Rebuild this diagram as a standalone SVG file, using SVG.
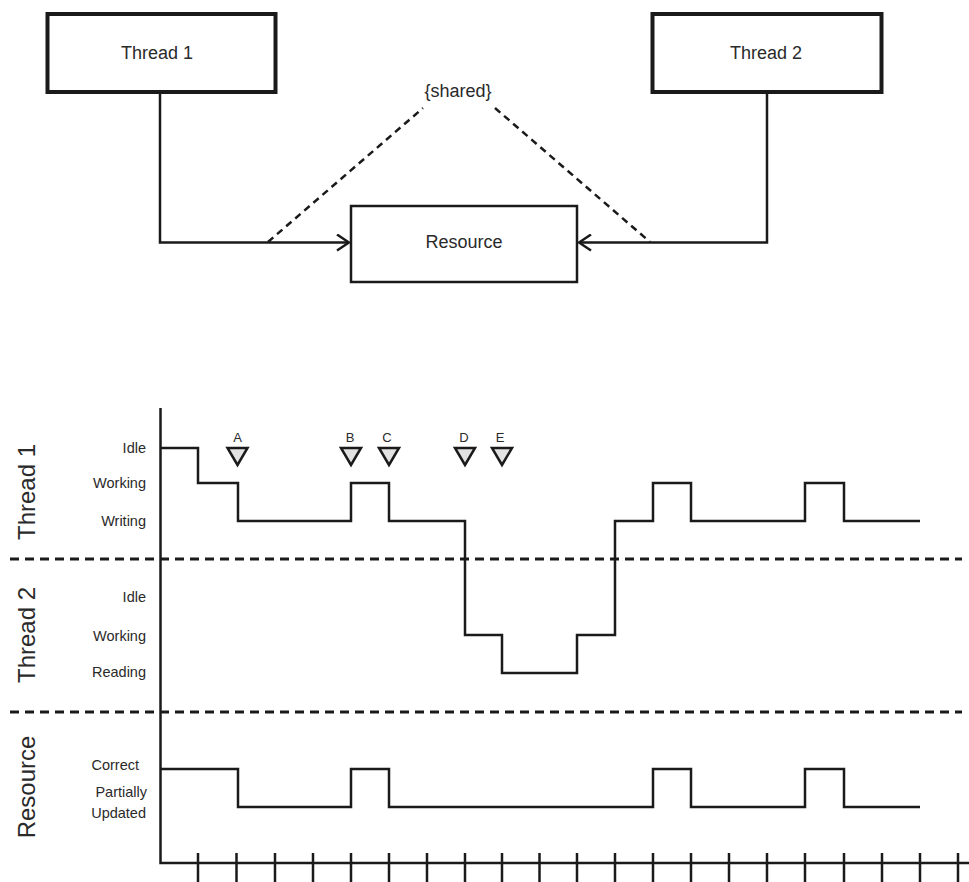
<svg xmlns="http://www.w3.org/2000/svg" width="969" height="882" viewBox="0 0 969 882">
<style>
text{font-family:"Liberation Sans",Arial,sans-serif;fill:#2a2a2a}
.big{font-size:18px;text-anchor:middle}
.lvl{font-size:14.5px;text-anchor:end}
.axl{font-size:24px;text-anchor:middle}
.mk{font-size:13px;text-anchor:middle}
.ln{fill:none;stroke:#1a1a1a;stroke-width:2.5}
.dash{fill:none;stroke:#1a1a1a;stroke-width:2.5;stroke-dasharray:7 5}
.sep{fill:none;stroke:#1a1a1a;stroke-width:3;stroke-dasharray:9 6}
.tri{fill:#e2e2e2;stroke:#1a1a1a;stroke-width:2.5;stroke-linejoin:miter}
</style>
<defs>
<marker id="open" viewBox="0 0 14 18" refX="13" refY="9" markerWidth="14" markerHeight="18" markerUnits="userSpaceOnUse" orient="auto">
<path d="M1 1 L13 9 L1 17" fill="none" stroke="#1a1a1a" stroke-width="2.5"/>
</marker>
</defs>
<rect width="969" height="882" fill="#ffffff"/>

<g id="thread1">
<rect x="47.5" y="14" width="228" height="78" fill="#fff" stroke="#1a1a1a" stroke-width="4"/>
<text class="big" x="157" y="59">Thread 1</text>
</g>
<g id="thread2">
<rect x="652.5" y="14" width="229" height="78" fill="#fff" stroke="#1a1a1a" stroke-width="4"/>
<text class="big" x="766" y="59">Thread 2</text>
</g>
<g id="resource">
<rect x="351" y="206" width="226" height="76" fill="#fff" stroke="#1a1a1a" stroke-width="2.5"/>
<text class="big" x="464" y="248">Resource</text>
</g>

<g id="connectors">
<path class="ln" d="M160 92 V242.5 H349" marker-end="url(#open)"/>
<path class="ln" d="M767 92 V242.5 H579" marker-end="url(#open)"/>
<path class="dash" d="M268 242 L423 108"/>
<path class="dash" d="M495 108 L650 242"/>
<text class="big" x="458" y="97">{shared}</text>
</g>

<g id="timing">
<path class="sep" d="M10 559 H962"/>
<path class="sep" d="M10 712 H962"/>
<path class="ln" d="M160.5 408 V863 H969"/>
<path class="ln" d="M198 853 V882 M236.5 853 V882 M275 853 V882 M313 853 V882 M351 853 V882 M389 853 V882 M427 853 V882 M465 853 V882 M502 853 V882 M539.5 853 V882 M577 853 V882 M615 853 V882 M653 853 V882 M691 853 V882 M729 853 V882 M767 853 V882 M805 853 V882 M844 853 V882 M882 853 V882 M920 853 V882 M958 853 V882"/>

<text class="axl" transform="translate(35 492) rotate(-90)">Thread 1</text>
<text class="axl" transform="translate(35 635) rotate(-90)">Thread 2</text>
<text class="axl" transform="translate(35 787) rotate(-90)">Resource</text>

<text class="lvl" x="146" y="453">Idle</text>
<text class="lvl" x="146" y="488">Working</text>
<text class="lvl" x="146" y="526">Writing</text>
<text class="lvl" x="146" y="602">Idle</text>
<text class="lvl" x="146" y="641">Working</text>
<text class="lvl" x="146" y="677">Reading</text>
<text class="lvl" x="139" y="770">Correct</text>
<text class="lvl" x="147" y="797">Partially</text>
<text class="lvl" x="146" y="818">Updated</text>

<path class="ln" d="M160 448 H198 V483 H238 V521 H351 V483 H389 V521 H465 V635 H502 V673 H577 V635 H615 V521 H653 V483 H691 V521 H805 V483 H844 V521 H920"/>
<path class="ln" d="M160 769 H238 V807 H351 V769 H389 V807 H653 V769 H691 V807 H805 V769 H844 V807 H920"/>

<g id="markers">
<path class="tri" d="M227.5 448 H247.5 L237.5 465 Z"/>
<text class="mk" x="237.5" y="442">A</text>
<path class="tri" d="M341 448 H361 L351 465 Z"/>
<text class="mk" x="350" y="442">B</text>
<path class="tri" d="M379 448 H399 L389 465 Z"/>
<text class="mk" x="387" y="442">C</text>
<path class="tri" d="M455 448 H475 L465 465 Z"/>
<text class="mk" x="464" y="442">D</text>
<path class="tri" d="M492 448 H512 L502 465 Z"/>
<text class="mk" x="500" y="442">E</text>
</g>
</g>
</svg>
